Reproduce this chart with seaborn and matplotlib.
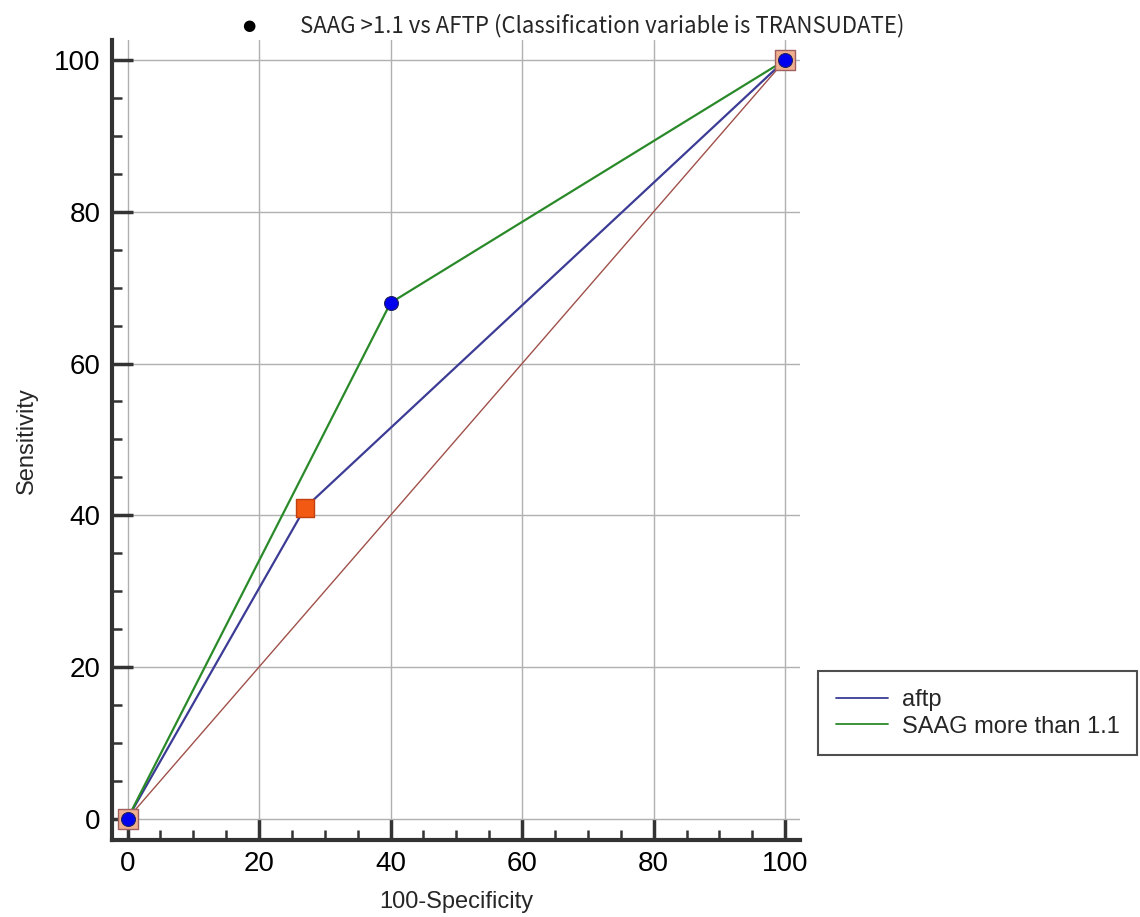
import matplotlib
matplotlib.use("Agg")
import matplotlib.pyplot as plt
from matplotlib.ticker import MultipleLocator
import pandas as pd
import seaborn as sns

# ROC points (100-Specificity, Sensitivity)
aftp_x = [0, 27, 100]
aftp_y = [0, 41, 100]
saag_x = [0, 40, 100]
saag_y = [0, 68, 100]
ref_x = [0, 100]
ref_y = [0, 100]
series_names = ["aftp", "SAAG more than 1.1"]
title = "SAAG >1.1 vs AFTP (Classification variable is TRANSUDATE)"


def draw():
    sns.set_style("white")
    plt.rcParams["font.family"] = ["Liberation Sans", "DejaVu Sans"]

    fig = plt.figure(figsize=(11.4, 9.17), dpi=100)
    ax = fig.add_axes([0.098, 0.084, 0.604, 0.872])

    roc = pd.concat([
        pd.DataFrame({"x": aftp_x, "y": aftp_y, "test": series_names[0]}),
        pd.DataFrame({"x": saag_x, "y": saag_y, "test": series_names[1]}),
    ])
    colors = {series_names[0]: "#3c3c96", series_names[1]: "#2a8a2a"}

    # reference diagonal
    sns.lineplot(x=ref_x, y=ref_y, ax=ax, color="#a0504a", linewidth=1.0, legend=False)

    sns.lineplot(data=roc, x="x", y="y", hue="test", palette=colors, sort=False,
                 linewidth=1.6, ax=ax, estimator=None)

    # end-point squares under the circles
    sns.scatterplot(x=[aftp_x[0], aftp_x[-1]], y=[aftp_y[0], aftp_y[-1]], ax=ax, marker="s",
                    s=190, color="#f0b090", edgecolor="#a06060", linewidth=1.0, zorder=4, legend=False)
    # aftp cut-off point
    sns.scatterplot(x=aftp_x[1:2], y=aftp_y[1:2], ax=ax, marker="s", s=170,
                    color="#f25a14", edgecolor="#c04010", linewidth=1.0, zorder=5, legend=False)
    # SAAG points
    sns.scatterplot(x=saag_x, y=saag_y, ax=ax, marker="o", s=100, color="#0000ee",
                    edgecolor="#202060", linewidth=0.8, zorder=6, legend=False)

    ax.set_xlim(-2.4, 102.3)
    ax.set_ylim(-2.8, 102.6)
    ax.xaxis.set_major_locator(MultipleLocator(20))
    ax.yaxis.set_major_locator(MultipleLocator(20))
    ax.xaxis.set_minor_locator(MultipleLocator(5))
    ax.yaxis.set_minor_locator(MultipleLocator(5))
    ax.grid(True, which="major", color="#b0b0b0", linewidth=1.0)
    ax.set_axisbelow(True)

    for side in ["top", "right"]:
        ax.spines[side].set_visible(False)
    for side in ["left", "bottom"]:
        ax.spines[side].set_color("#333333")
        ax.spines[side].set_linewidth(3)
    ax.tick_params(which="major", direction="in", length=15, width=2.5, color="#333333",
                   labelsize=20, labelcolor="black", pad=8, bottom=True, left=True)
    ax.tick_params(which="minor", direction="in", length=7, width=1.8, color="#333333",
                   bottom=True, left=True)

    ax.set_xlabel("100-Specificity", fontsize=17, labelpad=10)
    ax.set_ylabel("Sensitivity", fontsize=17, labelpad=12)

    handles, labels = ax.get_legend_handles_labels()
    if ax.get_legend():
        ax.get_legend().remove()
    leg = fig.legend(handles, labels, loc="upper left", bbox_to_anchor=(0.7175, 0.268),
                     fontsize=17, frameon=True, fancybox=False, handlelength=2.2,
                     borderpad=0.75, labelspacing=0.2, handletextpad=0.6, borderaxespad=0)
    leg.get_frame().set_edgecolor("#222222")
    leg.get_frame().set_linewidth(1.5)
    for line in leg.get_lines():
        line.set_linewidth(1.3)

    fig.text(0.218, 0.972, "\u25cf", ha="center", va="center", fontsize=11, color="black",
             family=["DejaVu Sans"])
    fig.text(0.263, 0.972, title, ha="left", va="center", fontsize=16,
             family=["Noto Sans CJK SC", "DejaVu Sans"])

    plt.savefig("out.png", dpi=100)


def main():
    draw()


if __name__ == "__main__":
    main()
